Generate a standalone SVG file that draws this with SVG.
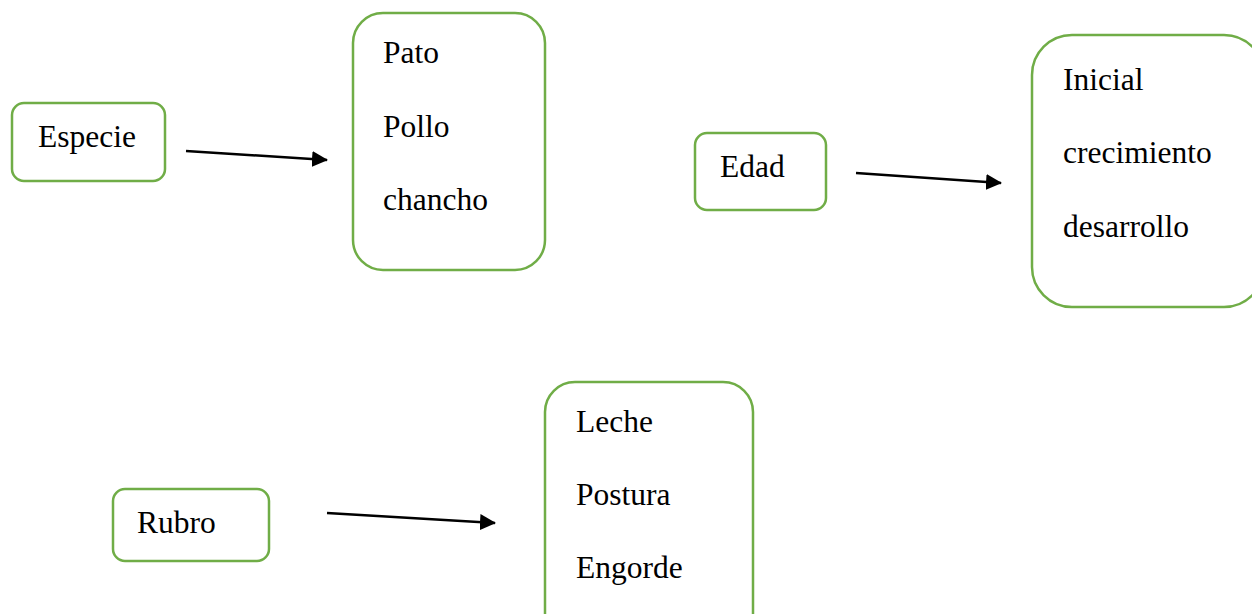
<svg xmlns="http://www.w3.org/2000/svg" width="1252" height="614" viewBox="0 0 1252 614">
<defs>
<style>
.box{fill:#fff;stroke:#70AD47;stroke-width:2.5}
.t{font-family:"Liberation Serif","Times New Roman",serif;font-size:31.5px;fill:#000}
.c{stroke:#000;stroke-width:2.5;fill:none}
</style>
<marker id="ah" markerUnits="userSpaceOnUse" markerWidth="16" markerHeight="16" viewBox="0 0 16 16" refX="15" refY="8" orient="auto">
<path d="M0,0 L16,8 L0,16 Z" fill="#000"/>
</marker>
</defs>
<rect width="1252" height="614" fill="#fff"/>
<g id="especie">
<rect class="box" x="12" y="103" width="153" height="78" rx="12"/>
<text class="t" x="38" y="147">Especie</text>
</g>
<g id="animales">
<rect class="box" x="353" y="13" width="192" height="257" rx="30"/>
<text class="t" x="383" y="63">Pato</text>
<text class="t" x="383" y="137">Pollo</text>
<text class="t" x="383" y="210">chancho</text>
</g>
<g id="edad">
<rect class="box" x="695" y="133" width="131" height="77" rx="12"/>
<text class="t" x="720" y="177">Edad</text>
</g>
<g id="etapas">
<rect class="box" x="1032" y="35" width="232" height="272" rx="40"/>
<text class="t" x="1063" y="90">Inicial</text>
<text class="t" x="1063" y="163">crecimiento</text>
<text class="t" x="1063" y="237">desarrollo</text>
</g>
<g id="rubro">
<rect class="box" x="113" y="489" width="156" height="72" rx="12"/>
<text class="t" x="137" y="533">Rubro</text>
</g>
<g id="produccion">
<rect class="box" x="545" y="382" width="208" height="262" rx="30"/>
<text class="t" x="576" y="432">Leche</text>
<text class="t" x="576" y="505">Postura</text>
<text class="t" x="576" y="578">Engorde</text>
</g>
<g id="connectors">
<line class="c" x1="186" y1="151" x2="327" y2="160" marker-end="url(#ah)"/>
<line class="c" x1="856" y1="173" x2="1001" y2="183" marker-end="url(#ah)"/>
<line class="c" x1="327" y1="513" x2="495" y2="523" marker-end="url(#ah)"/>
</g>
</svg>
